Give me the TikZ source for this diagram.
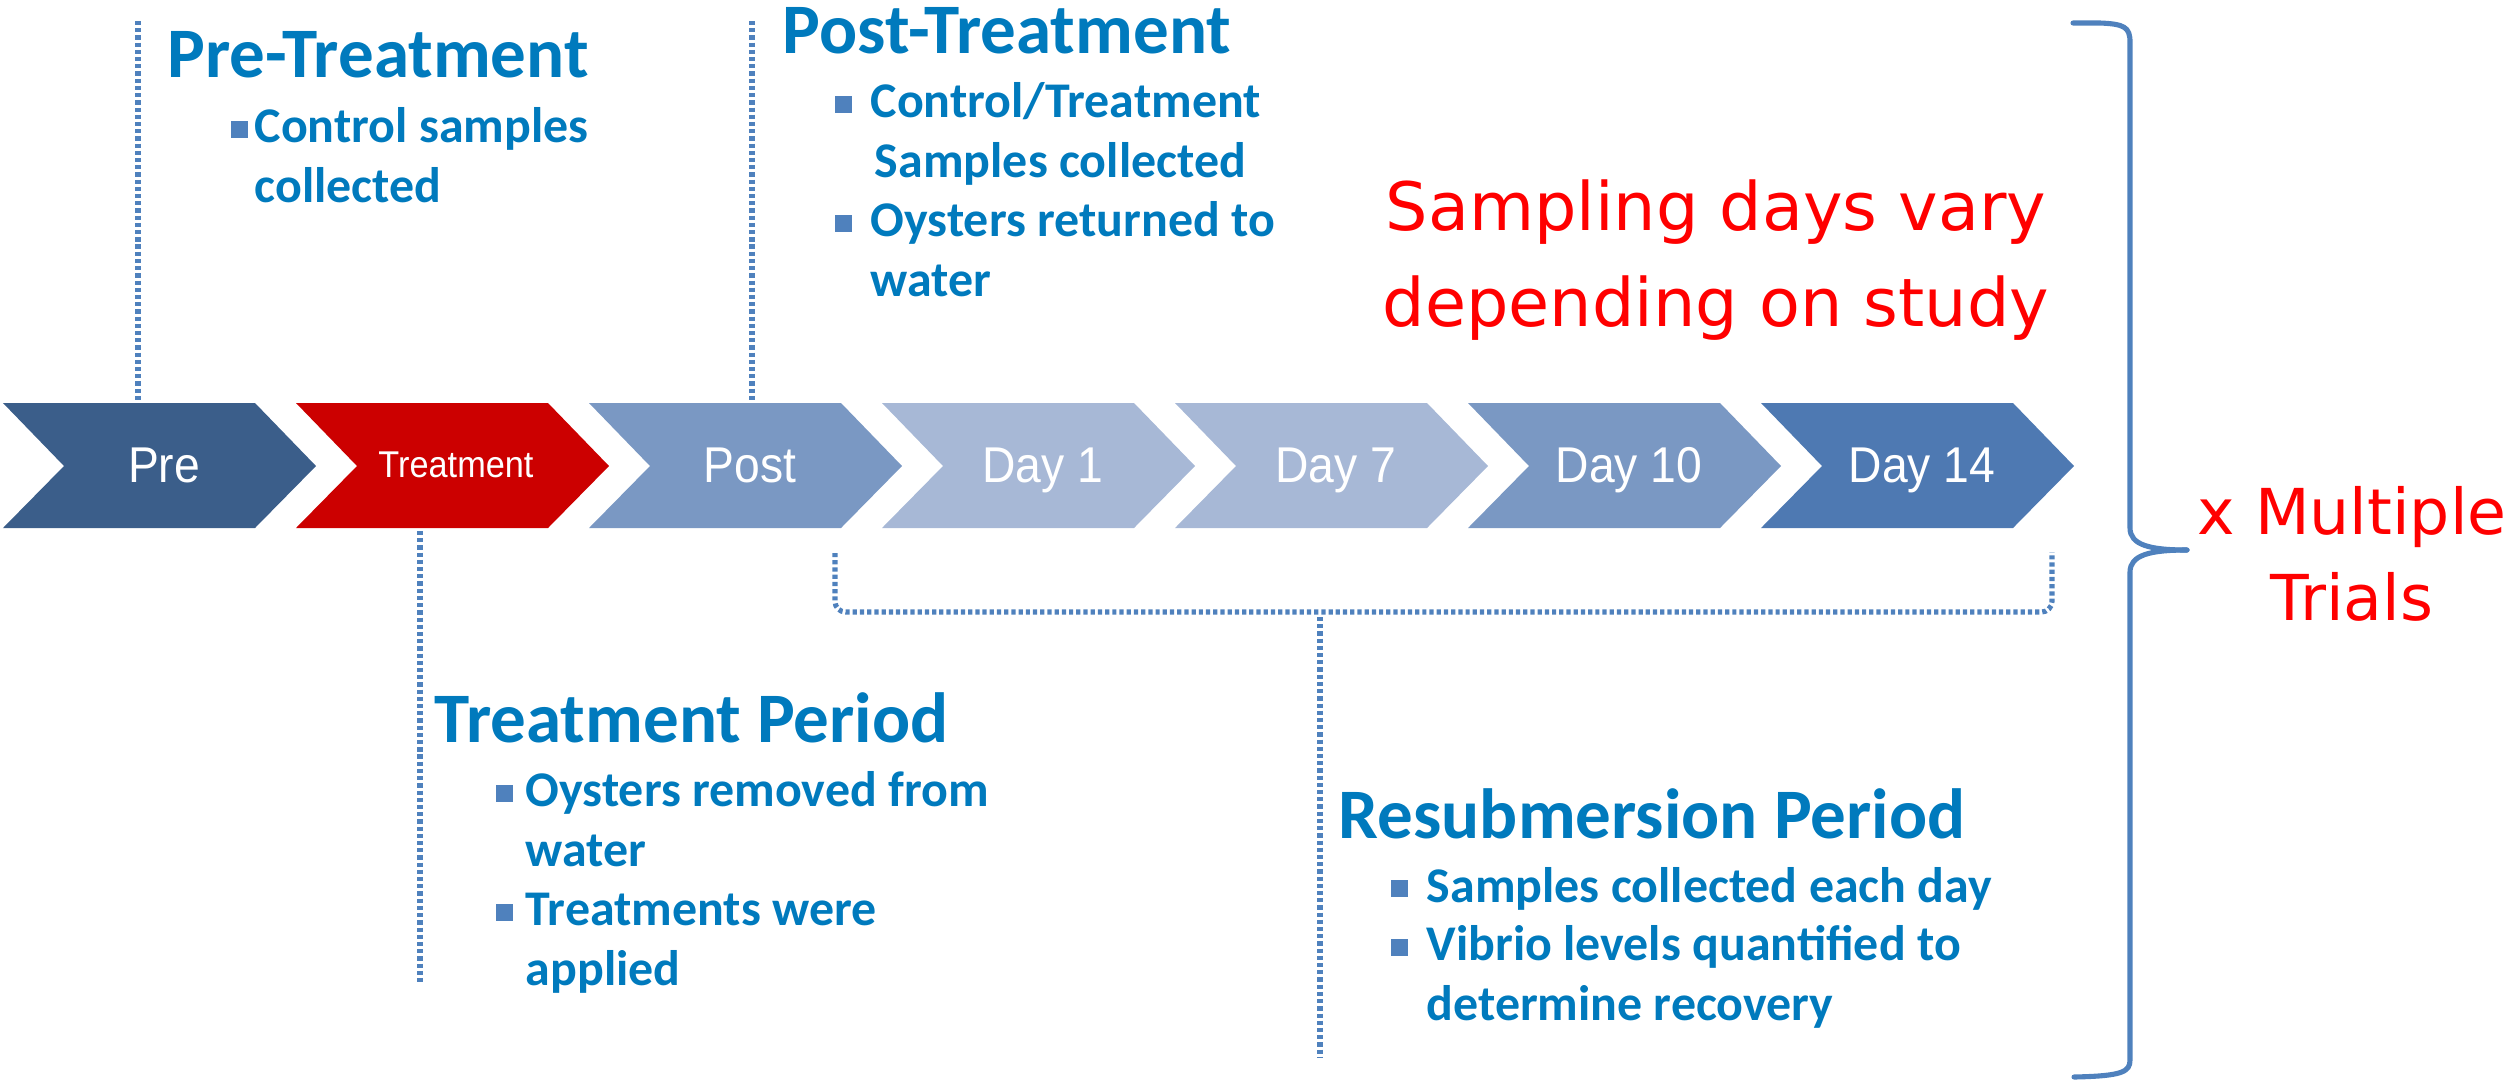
\documentclass[tikz,border=0pt]{standalone}
\usepackage{fontspec}
\setmainfont{Carlito}
\newfontfamily\chevfont[FakeStretch=0.92]{Liberation Sans}
\newfontfamily\redfont{DejaVu Sans}
\usetikzlibrary{calc}
\definecolor{headblue}{RGB}{0,122,189}
\definecolor{bulblue}{RGB}{79,129,189}
\definecolor{cPre}{RGB}{59,94,138}
\definecolor{cTreat}{RGB}{204,0,0}
\definecolor{cMid}{RGB}{122,152,195}
\definecolor{cLight}{RGB}{167,184,214}
\definecolor{cDark}{RGB}{78,121,178}
\begin{document}
\begin{tikzpicture}[x=0.01cm,y=-0.01cm,
  head/.style={anchor=base west, inner sep=0, font=\fontsize{20.2}{24}\selectfont\bfseries, text=headblue},
  item/.style={anchor=base west, inner sep=0, align=left, font=\fontsize{14.2}{16.8}\selectfont\bfseries, text=headblue},
  bsq/.style={fill=bulblue},
  dots/.style={draw=bulblue, line width=1.45pt, dash pattern=on 1.2pt off 0.85pt},
  redtxt/.style={text=red, font=\redfont\fontsize{19}{27.3}\selectfont, align=center, inner sep=0, anchor=base},
  clab/.style={text=white, font=\chevfont\fontsize{14.3}{17}\selectfont, anchor=base, inner sep=0},
  brace/.style={draw=bulblue, line width=1.45pt, line cap=round}
]
\useasboundingbox (0,0) rectangle (2509,1081);

% chevrons
\foreach \i/\col/\nm in {0/cPre/pre,1/cTreat/trt,2/cMid/post,3/cLight/d1,4/cLight/d7,5/cMid/d10,6/cDark/d14}{
  \pgfmathsetmacro{\xo}{3+293*\i}
  \fill[\col] (\xo,403) -- (\xo+252,403) -- (\xo+313,466) -- (\xo+252,528) -- (\xo,528) -- (\xo+61,466) -- cycle;
}
\node[clab] (lpre) at (164,482) {Pre};
\node[clab, font=\chevfont\fontsize{10.6}{12}\selectfont] (ltrt) at (456,477) {Treatment};
\node[clab] (lpost) at (750,482) {Post};
\node[clab] (ld1) at (1043,482) {Day 1};
\node[clab] (ld7) at (1336,482) {Day 7};
\node[clab] (ld10) at (1629,482) {Day 10};
\node[clab] (ld14) at (1922,482) {Day 14};

% headings
\node[head] (hpre) at (167,77) {Pre-Treatment};
\node[head] (hpost) at (782,53) {Post-Treatment};
\node[head] (htrt) at (434,742) {Treatment Period};
\node[head] (hres) at (1338,838) {Resubmersion Period};

% items (anchor = baseline of the last line)
\fill[bsq] (231,121) rectangle (248,138);
\node[item] (ipre) at (254,202) {Control samples\\collected};

\fill[bsq] (835,96) rectangle (852,113);
\node[item] (ipost1) at (870,177) {Control/Treatment\\\hspace*{1.2pt}Samples collected};
\fill[bsq] (835,215) rectangle (852,232);
\node[item] (ipost2) at (870,296) {Oysters returned to\\water};

\fill[bsq] (496,785) rectangle (513,802);
\node[item] (itrt1) at (525,866) {Oysters removed from\\water};
\fill[bsq] (496,904) rectangle (513,921);
\node[item] (itrt2) at (525,985) {Treatments were\\applied};

\fill[bsq] (1391,880) rectangle (1408,897);
\node[item] (ires1) at (1426,902) {Samples collected each day};
\fill[bsq] (1391,939) rectangle (1408,956);
\node[item] (ires2) at (1426,1020) {Vibrio levels quantified to\\determine recovery};

% red texts
\node[redtxt] (vary) at (1716,326) {Sampling days vary\\depending on study};
\node[redtxt, font=\redfont\fontsize{18}{24.2}\selectfont] (mult) at (2352,620) {x Multiple\\Trials};

% dotted connectors
\coordinate (p1a) at (138,21);  \coordinate (p1b) at (138,401);
\coordinate (p2a) at (752,21);  \coordinate (p2b) at (752,401);
\coordinate (t1a) at (420,531); \coordinate (t1b) at (420,985);
\coordinate (r1) at (835,553); \coordinate (r2) at (2052,552);
\coordinate (r3) at (1320,617); \coordinate (r4) at (1320,1058);
\draw[dots] (p1a) -- (p1b);
\draw[dots] (p2a) -- (p2b);
\draw[dots] (t1a) -- (t1b);
\draw[dots, rounded corners=3] (r1) -- (835,612) -- (2052,612) -- (r2);
\draw[dots] (r3) -- (r4);

% brace
\coordinate (bt) at (2073,23);
\coordinate (bm) at (2187,550);
\coordinate (bb) at (2074,1077);
\draw[brace] (bt) -- (2100,23) .. controls (2124,24) and (2130,27) .. (2130,42)
  -- (2130,528) .. controls (2130,545) and (2150,550) .. (bm);
\draw[brace] (bm) .. controls (2150,550) and (2130,555) .. (2130,572)
  -- (2130,1060) .. controls (2130,1072) and (2122,1076) .. (bb);
\end{tikzpicture}
\end{document}
